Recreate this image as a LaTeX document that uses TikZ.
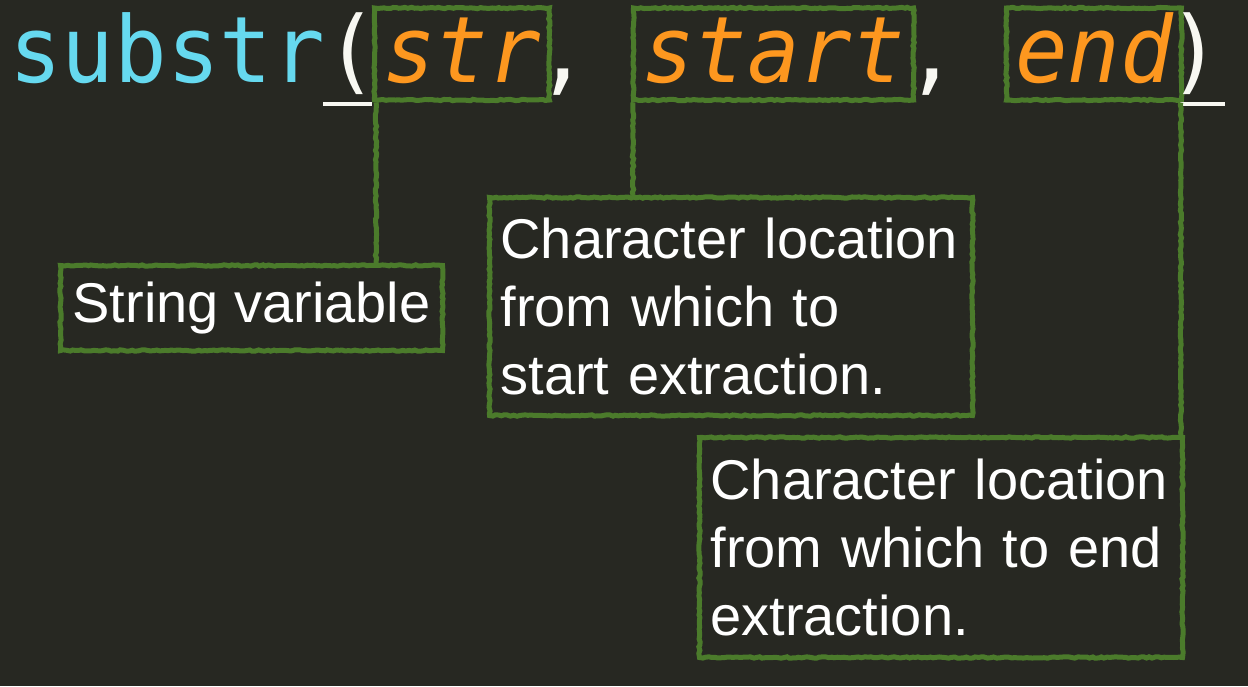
\documentclass[tikz,border=0pt]{standalone}
\usepackage{fontspec}
\usetikzlibrary{decorations.pathmorphing}
\newfontfamily\codefont[FakeStretch=0.95]{DejaVu Sans Mono}
\newfontfamily\notefont{Liberation Sans}
\definecolor{bg}{HTML}{272822}
\definecolor{fncol}{HTML}{66D9EF}
\definecolor{argcol}{HTML}{FD971F}
\definecolor{punct}{HTML}{F8F8F2}
\definecolor{chalkgreen}{HTML}{4B7B2B}
\begin{document}
\begin{tikzpicture}[x=1pt, y=-1pt,
    chalk/.style={draw=chalkgreen, line width=5pt, decorate,
        decoration={random steps, segment length=3pt, amplitude=.7pt}},
    code/.style={font=\codefont\fontsize{92}{92}\selectfont, inner sep=0pt, anchor=base west},
    argbox/.style={code, chalk, text=argcol, font=\codefont\itshape\fontsize{92}{92}\selectfont,
        inner xsep=8.5pt, text height=74pt, text depth=18pt},
    note/.style={chalk, text=white, font=\notefont\fontsize{56}{68}\selectfont,
        inner sep=0pt, align=left, anchor=north west}]
\fill[bg](0,0)rectangle(1248,686);
\useasboundingbox(0,0)rectangle(1248,686);
% the call
\node[code, text=fncol](fn) at (9,82){substr};
\node[code, text=punct](lp) at (325,82){(};
\node[argbox](strarg) at (372,82){str};
\node[code, text=punct](c1) at (536,82){,};
\node[argbox](startarg) at (631,82){start};
\node[code, text=punct](c2) at (905,82){,};
\node[argbox](endarg) at (1004,82){end};
\node[code, text=punct](rp) at (1168,82){)};
\draw[punct, line width=4pt]([xshift=-2pt, yshift=-22pt]lp.base west)--++(49,0);
\draw[punct, line width=4pt]([xshift=12pt, yshift=-22pt]rp.base west)--++(45,0);
% the notes
\node[note, minimum width=382pt, minimum height=85pt](n1) at (58,263){String variable};
\node[note, minimum width=483pt, minimum height=218pt, text width=461pt](n2) at (487,195){Character location\\ from which to\\ start extraction.};
\node[note, minimum width=483pt, minimum height=220pt, text width=461pt](n3) at (697,435){Character location\\ from which to end\\ extraction.};
\draw[chalk]([xshift=4pt]strarg.south west)--([xshift=4pt]strarg.south west |- n1.north);
\draw[chalk]([xshift=2pt]startarg.south west)--([xshift=2pt]startarg.south west |- n2.north);
\draw[chalk]([xshift=-3pt]endarg.south east)--([xshift=-3pt]endarg.south east |- n3.north);
\end{tikzpicture}
\end{document}
